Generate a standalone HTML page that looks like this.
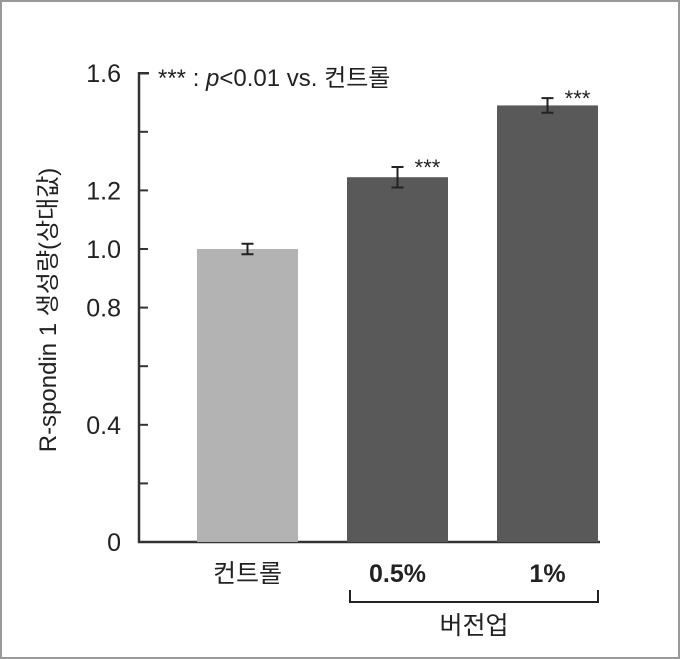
<!DOCTYPE html>
<html><head><meta charset="utf-8"><style>
body{margin:0;background:#fff}
svg{display:block}
text{font-family:"Liberation Sans","Noto Sans CJK KR",sans-serif;fill:#222}
</style></head><body>
<svg width="680" height="659" viewBox="0 0 680 659">
<rect x="1" y="1" width="678" height="657" fill="#fff" stroke="#999" stroke-width="2"/>
<g id="chart"></g>
</svg>
<script>
const categories=["컨트롤","0.5%","1%"];
const values=[1.0,1.245,1.49];
const errors=[0.018,0.035,0.025];
const colors=["#b3b3b3","#595959","#595959"];
const sigLabels=["","***","***"];
const tickValues=[0,0.2,0.4,0.6,0.8,1.0,1.2,1.4,1.6];
const tickLabels=["0","","0.4","","0.8","1.0","1.2","","1.6"];
const NS="http://www.w3.org/2000/svg";
const g=document.getElementById('chart');
const y0=542,scale=293,axisX=139;
const y=v=>y0-v*scale;
const bx=i=>197+i*150;const bw=101;
function el(t,a,txt){const e=document.createElementNS(NS,t);for(const k in a)e.setAttribute(k,a[k]);if(txt!==undefined)e.textContent=txt;g.appendChild(e);return e;}
let ax=el('path',{d:`M${axisX+10} ${y(1.6)}H${axisX}V${y0}H600`,fill:'none',stroke:'#333','stroke-width':2.5});


tickValues.forEach((v,i)=>{
 const t=el('line',{x1:axisX,x2:axisX+9,y1:y(v),y2:y(v),stroke:'#333','stroke-width':2});
 
 
 if(tickLabels[i]){const l=el('text',{x:121,y:y(v)+9,'text-anchor':'end','font-size':25},tickLabels[i]);
 
 }
});
values.forEach((v,i)=>{
 const r=el('rect',{x:bx(i),y:y(v),width:bw,height:y0-y(v),fill:colors[i]});
 
 
 const cx=bx(i)+bw/2,e=errors[i];
 const eb=el('path',{d:`M${cx} ${y(v+e)}V${y(v-e)}M${cx-6} ${y(v+e)}H${cx+6}M${cx-6} ${y(v-e)}H${cx+6}`,stroke:'#222','stroke-width':2,fill:'none'});
 
 
 if(sigLabels[i]){const s=el('text',{x:cx+30,y:y(v+e)+8,'text-anchor':'middle','font-size':22},sigLabels[i]);
 
 }
 const l=el('text',{x:cx,y:582,'text-anchor':'middle','font-size':25,'font-weight':i?'bold':'normal'},categories[i]);
 
 
});
</script>
<svg style="position:absolute;left:0;top:0" width="680" height="659">
<text x="158" y="86" font-size="24">*** : <tspan font-style="italic">p</tspan>&lt;0.01 vs. 컨트롤</text>
<text transform="translate(56 310) rotate(-90)" text-anchor="middle" font-size="24">R-spondin 1 생성량(상대값)</text>
<path d="M350 590V602H598V590" fill="none" stroke="#222" stroke-width="2"/>
<text x="474" y="634" text-anchor="middle" font-size="25">버전업</text>
</svg>
</body></html>
